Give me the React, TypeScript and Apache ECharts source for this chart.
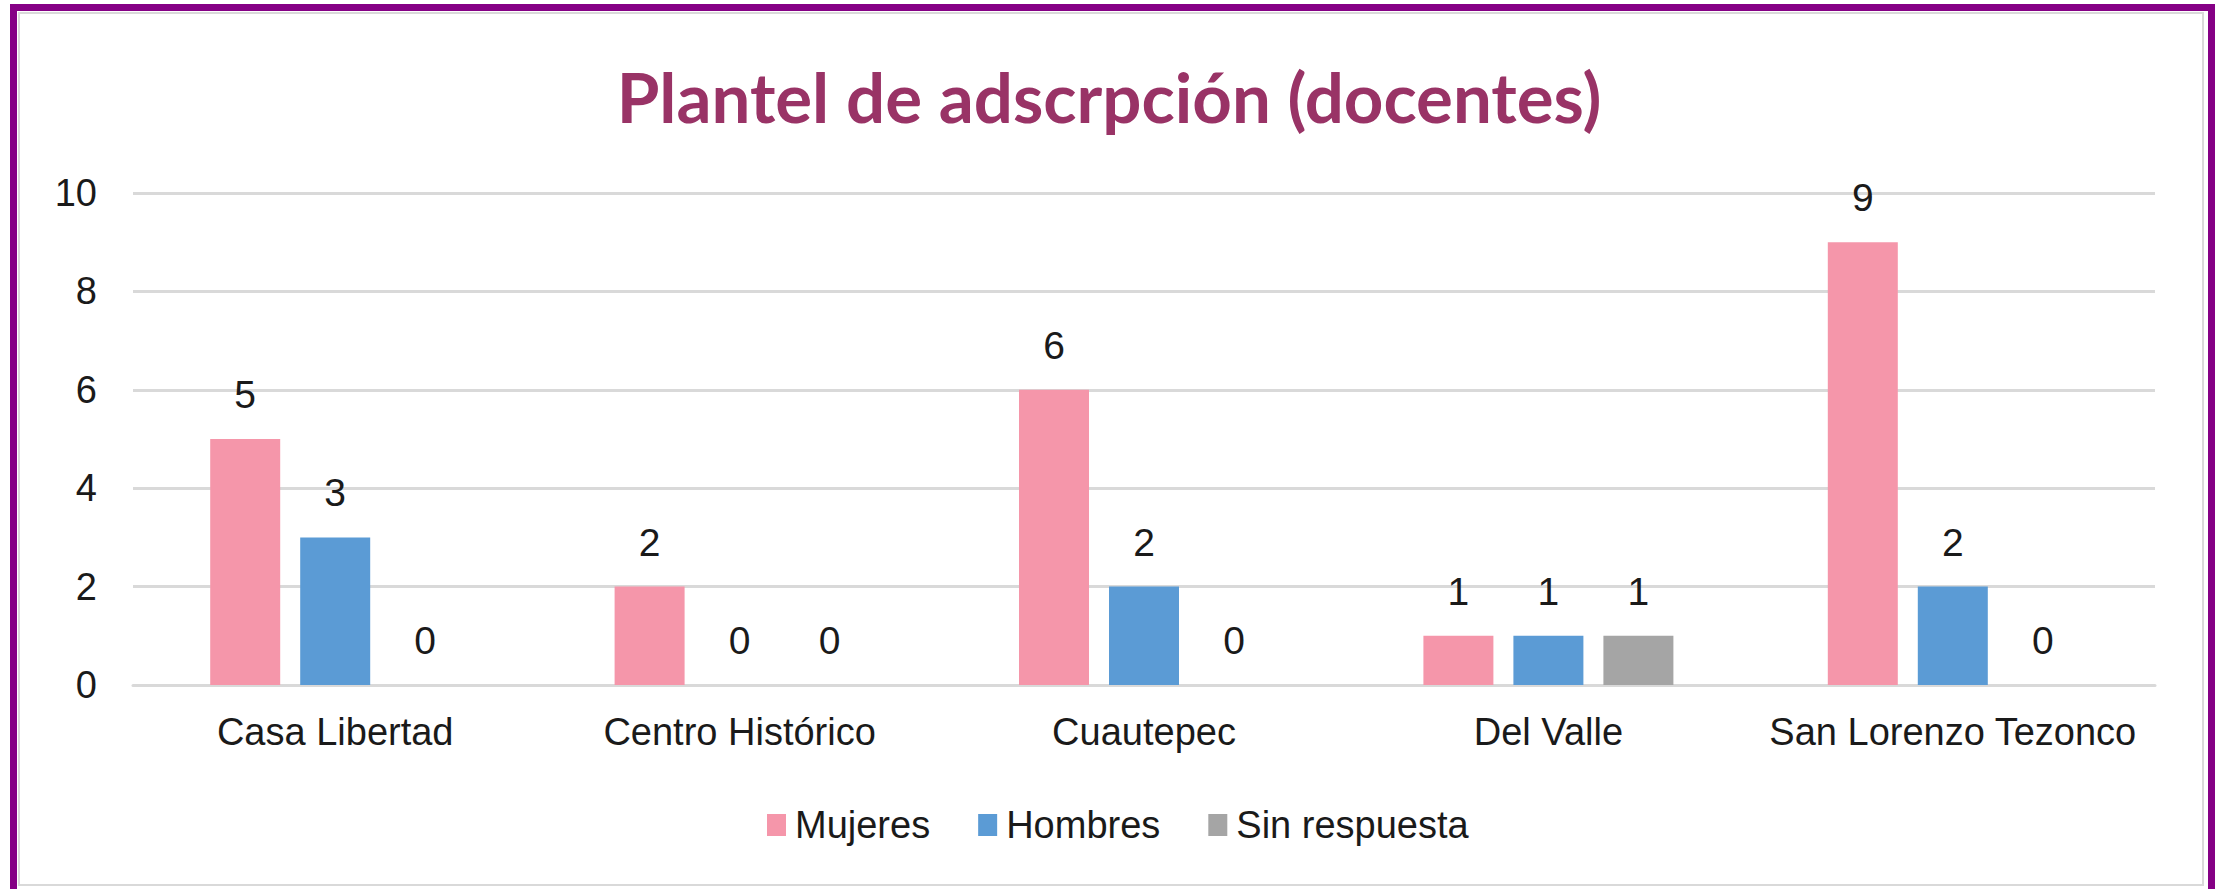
import React, { useEffect, useRef } from "react";
import * as echarts from "echarts";

const categories = ["Casa Libertad", "Centro Histórico", "Cuautepec", "Del Valle", "San Lorenzo Tezonco"];
const seriesNames = ["Mujeres", "Hombres", "Sin respuesta"];
const mujeres = [5, 2, 6, 1, 9];
const hombres = [3, 0, 2, 1, 2];
const sinRespuesta = [0, 0, 0, 1, 0];
const colors = ["#F596AA", "#5B9BD5", "#A5A5A5"];
const titleText = "Plantel de adscrpción (docentes)";

const FONT = "'Liberation Sans', Arial, sans-serif";
const TEXT_COLOR = "#1a1a1a";

export default function App() {
  const ref = useRef<HTMLDivElement>(null);
  useEffect(() => {
    if (!ref.current) return;
    const chart = echarts.init(ref.current, null, { renderer: "svg" });
    const values = [mujeres, hombres, sinRespuesta];
    chart.setOption({
      animation: false,
      backgroundColor: "#ffffff",
      title: {
        text: titleText,
        left: "center",
        top: 57,
        textStyle: {
          fontFamily: "Lato, 'Open Sans', sans-serif",
          fontWeight: "bold",
          fontSize: 69,
          color: "#993366",
        },
      },
      graphic: [
        {
          type: "rect",
          shape: { x: 13.5, y: 7.5, width: 2198, height: 910 },
          style: { fill: "none", stroke: "#850085", lineWidth: 7 },
          silent: true,
          z: 100,
        },
        {
          type: "rect",
          shape: { x: 19, y: 13, width: 2184, height: 872 },
          style: { fill: "none", stroke: "#D9D9D9", lineWidth: 2 },
          silent: true,
          z: 99,
        },
      ],
      legend: {
        data: seriesNames,
        left: 762,
        top: 801,
        itemWidth: 19,
        itemHeight: 22,
        itemGap: 48,
        icon: "rect",
        textStyle: { fontFamily: FONT, fontSize: 38, color: TEXT_COLOR, padding: [0, 0, 0, 4] },
      },
      grid: { left: 133, right: 63, top: 193, bottom: 204, containLabel: false },
      xAxis: {
        type: "category",
        data: categories,
        axisTick: { show: false },
        axisLine: { show: true, lineStyle: { color: "#D9D9D9", width: 3 } },
        axisLabel: { fontFamily: FONT, fontSize: 38, color: TEXT_COLOR, margin: 28, interval: 0 },
      },
      yAxis: {
        type: "value",
        min: 0,
        max: 10,
        interval: 2,
        axisLine: { show: false },
        axisTick: { show: false },
        splitLine: { lineStyle: { color: "#D9D9D9", width: 3 } },
        axisLabel: { fontFamily: FONT, fontSize: 38, color: TEXT_COLOR, margin: 36 },
      },
      series: seriesNames.map((name, i) => ({
        name,
        type: "bar",
        data: values[i],
        barWidth: 70,
        barGap: "28.57%",
        itemStyle: { color: colors[i] },
        label: {
          show: true,
          position: "top",
          distance: 25,
          fontFamily: FONT,
          fontSize: 39,
          color: TEXT_COLOR,
        },
      })),
    });
    return () => chart.dispose();
  }, []);
  return (
    <div
      ref={ref}
      style={{ position: "absolute", left: 0, top: 0, width: 2218, height: 889 }}
    />
  );
}
